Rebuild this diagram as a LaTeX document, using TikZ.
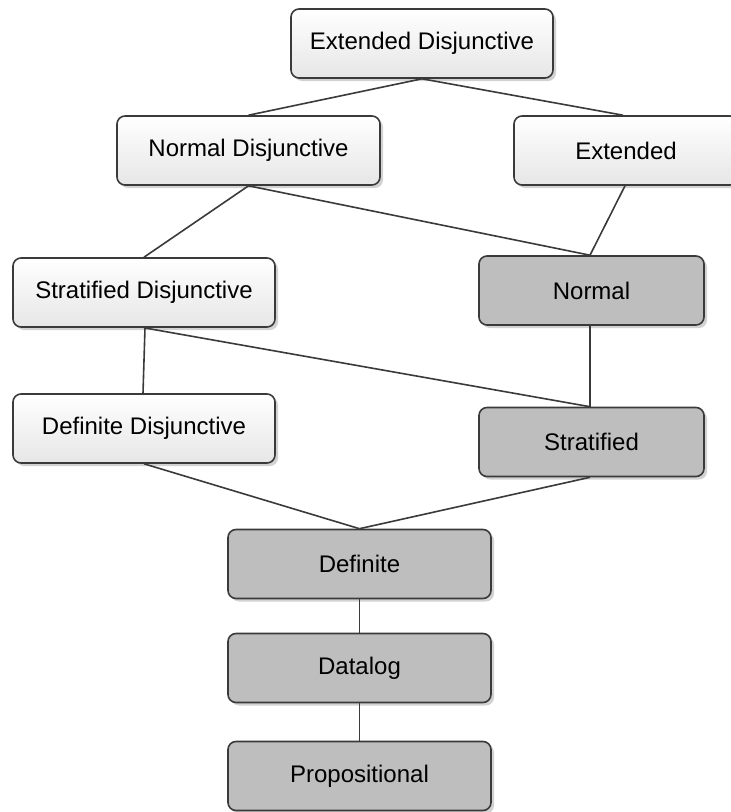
\documentclass[tikz,border=0pt]{standalone}
\usepackage{fontspec}
\setmainfont{Liberation Sans}
\usetikzlibrary{shadows}
\definecolor{edgegray}{HTML}{3A3A3A}
\definecolor{lighttop}{HTML}{FFFFFF}
\definecolor{lightbot}{HTML}{E6E6E6}
\definecolor{darkfill}{HTML}{BEBEBE}
\definecolor{shadowgray}{HTML}{D2D2D2}
\begin{document}
\begin{tikzpicture}[x=1pt,y=-1pt,
  basebox/.style={draw=edgegray, line width=1.6pt, rounded corners=8pt,
    font=\fontsize{24}{28}\selectfont, text=black, inner sep=0pt,
    minimum height=69pt,
    drop shadow={shadow xshift=3pt, shadow yshift=-3pt, fill=shadowgray, opacity=1}},
  lightbox/.style={basebox, top color=lighttop, bottom color=lightbot},
  darkbox/.style={basebox, fill=darkfill},
  link/.style={draw=edgegray, line width=1.6pt}]
\useasboundingbox (0,0) rectangle (731,812);

% light (disjunctive / extended) classes
\node[lightbox, minimum width=262pt] (extdisj) at (422,43.5) {Extended Disjunctive};
\node[lightbox, minimum width=263pt] (normdisj) at (248.5,150.5) {Normal Disjunctive};
\node[lightbox, minimum width=224pt] (ext) at (626,150.5) {Extended};
\node[lightbox, minimum width=262pt] (stratdisj) at (144,292.5) {Stratified Disjunctive};
\node[lightbox, minimum width=262pt] (defdisj) at (144,428.5) {Definite Disjunctive};

% dark (non-disjunctive) classes
\node[darkbox, minimum width=225pt] (normal) at (591.5,290.5) {Normal};
\node[darkbox, minimum width=225pt] (strat) at (591.5,442) {Stratified};
\node[darkbox, minimum width=263pt] (definite) at (359.5,564) {Definite};
\node[darkbox, minimum width=263pt] (datalog) at (359.5,668) {Datalog};
\node[darkbox, minimum width=263pt] (prop) at (359.5,776) {Propositional};

% inclusion links
\draw[link] (extdisj.south) -- (normdisj.north);
\draw[link] (extdisj.south) -- ([xshift=-3pt]ext.north);
\draw[link] (normdisj.south) -- (stratdisj.north);
\draw[link] (normdisj.south) -- ([xshift=-1.5pt]normal.north);
\draw[link] ([xshift=-1pt]ext.south) -- ([xshift=-1.5pt]normal.north);
\draw[link] ([xshift=1pt]stratdisj.south) -- ([xshift=-1pt]defdisj.north);
\draw[link] (stratdisj.south) -- ([xshift=-1.5pt]strat.north);
\draw[link] ([xshift=-1.5pt]normal.south) -- ([xshift=-1.5pt]strat.north);
\draw[link] (defdisj.south) -- (definite.north);
\draw[link] ([xshift=-1.5pt]strat.south) -- (definite.north);
\draw[link] (definite.south) -- (datalog.north);
\draw[link] (datalog.south) -- (prop.north);
\end{tikzpicture}
\end{document}
